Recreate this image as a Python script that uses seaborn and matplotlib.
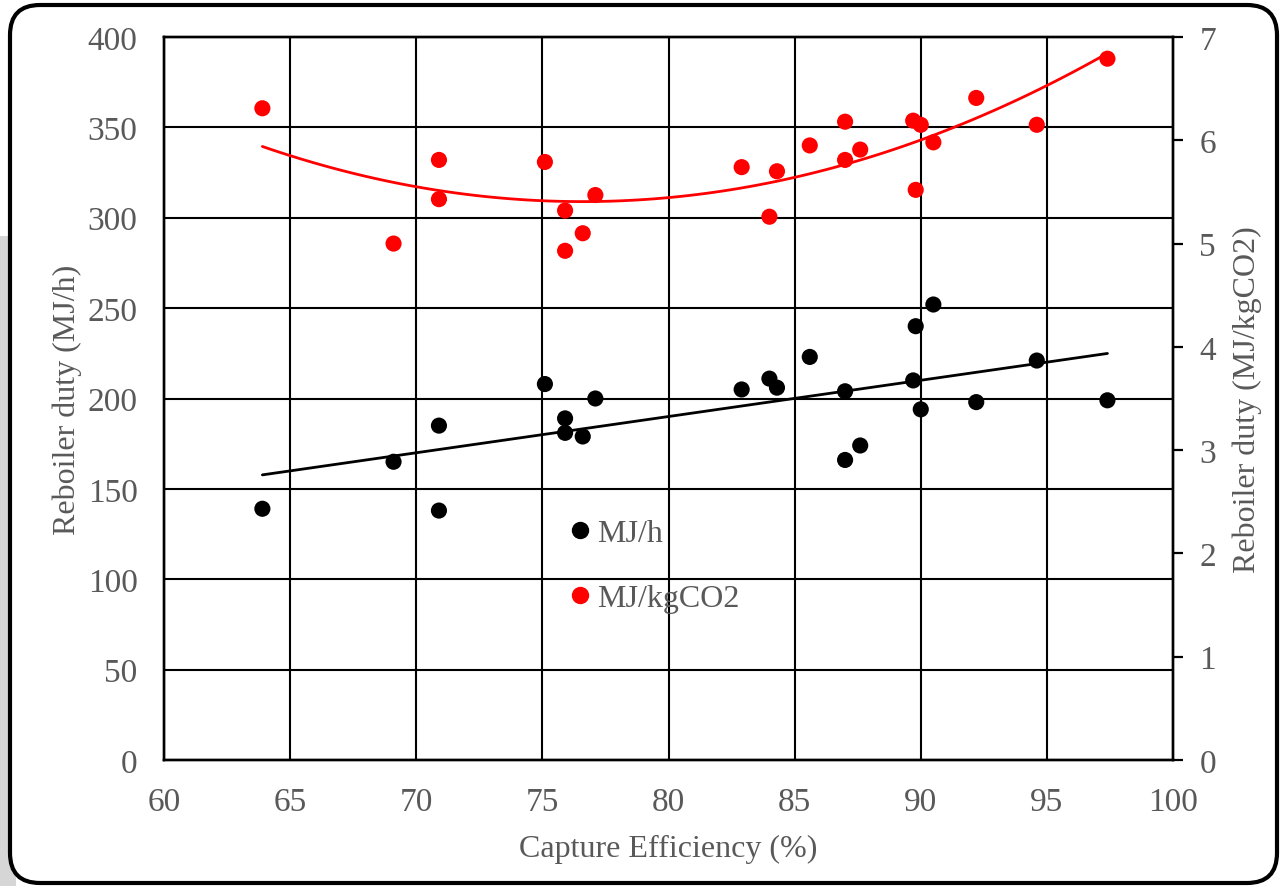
import numpy as np
import pandas as pd
import seaborn as sns
import matplotlib.pyplot as plt
from matplotlib.patches import FancyBboxPatch, Rectangle
from matplotlib.transforms import IdentityTransform
from matplotlib.lines import Line2D

# capture efficiency (%) shared by both series
capture_eff = [63.9, 69.1, 70.9, 70.9, 75.1, 75.9, 75.9, 76.6, 77.1, 82.9, 84.0, 84.3,
               85.6, 87.0, 87.0, 87.6, 89.7, 89.8, 90.0, 90.5, 92.2, 94.6, 97.4]
# reboiler duty, MJ/h (left axis)
duty_mjh = [139, 165, 185, 138, 208, 189, 181, 179, 200, 205, 211, 206,
            223, 204, 166, 174, 210, 240, 194, 252, 198, 221, 199]
# reboiler duty, MJ/kgCO2 (right axis)
duty_mjkg = [6.31, 5.00, 5.43, 5.81, 5.79, 5.32, 4.93, 5.10, 5.47, 5.74, 5.26, 5.70,
             5.95, 5.81, 6.18, 5.91, 6.19, 5.52, 6.15, 5.98, 6.41, 6.15, 6.79]

df = pd.DataFrame({'eff': capture_eff, 'mjh': duty_mjh, 'mjkg': duty_mjkg})

sns.set_theme(style="white")
plt.rcParams['font.family'] = ['Liberation Serif', 'DejaVu Serif']
gray = '#595959'
fs = 23

fig = plt.figure(figsize=(12.82, 8.87), dpi=100)

# background shadow + rounded border (pixel coords)
fig.patches.append(Rectangle((0, 0), 16, 650, transform=IdentityTransform(),
                             facecolor='#d6d6d6', edgecolor='none', zorder=-3))
fig.patches.append(FancyBboxPatch((10, 3), 1267, 878, boxstyle="round,pad=0,rounding_size=30",
                                  transform=IdentityTransform(), facecolor='white',
                                  edgecolor='black', linewidth=3, zorder=-2))

ax = fig.add_axes([164 / 1282, 1 - 761 / 887, (1173 - 164) / 1282, (761 - 38) / 887])
ax2 = ax.twinx()

# MJ/h series with linear trend
sns.scatterplot(data=df, x='eff', y='mjh', ax=ax, color='black', s=135, edgecolor='none', zorder=3)
sns.regplot(data=df, x='eff', y='mjh', ax=ax, scatter=False, ci=None, order=1,
            line_kws={'color': 'black', 'lw': 2, 'zorder': 3})

# MJ/kgCO2 series with quadratic trend
sns.scatterplot(data=df, x='eff', y='mjkg', ax=ax2, color='#ff0000', s=135, edgecolor='none', zorder=3)
sns.regplot(data=df, x='eff', y='mjkg', ax=ax2, scatter=False, ci=None, order=2,
            line_kws={'color': '#ff0000', 'lw': 2, 'zorder': 3})

ax.set_xlim(60, 100)
ax.set_ylim(0, 400)
ax2.set_ylim(0, 7)
ax.set_xticks(np.arange(60, 101, 5))
ax.set_yticks(np.arange(0, 401, 50))
ax2.set_yticks(np.arange(0, 8, 1))

ax.grid(True, color='black', linewidth=1.5)
ax2.grid(False)
ax.set_axisbelow(True)

ax.tick_params(axis='both', length=0, labelsize=fs + 1, labelcolor=gray, pad=19)
ax2.tick_params(axis='y', direction='out', length=7, width=1.6, color='black',
                labelsize=fs + 1, labelcolor=gray, pad=12)

for a in (ax, ax2):
    for side in ['left', 'bottom', 'right', 'top']:
        a.spines[side].set_color('black')
        a.spines[side].set_linewidth(1.7)

ax.set_xlabel('Capture Efficiency (%)', fontsize=fs, color=gray, labelpad=12)
ax.set_ylabel('Reboiler duty (MJ/h)', fontsize=fs, color=gray, labelpad=4)
ax2.set_ylabel('Reboiler duty (MJ/kgCO2)', fontsize=fs, color=gray, labelpad=12)

handles = [Line2D([], [], marker='o', linestyle='none', color='black', markersize=11.5),
           Line2D([], [], marker='o', linestyle='none', color='#ff0000', markersize=11.5)]
leg = fig.legend(handles, ['MJ/h', 'MJ/kgCO2'], loc='center left',
                 bbox_to_anchor=(572 / 1282, 1 - 567 / 887), frameon=False,
                 fontsize=fs, handlelength=0.5, handletextpad=0.3, borderpad=0,
                 borderaxespad=0, labelspacing=1.1)
for t in leg.get_texts():
    t.set_color(gray)

fig.savefig('out.png', dpi=100)
